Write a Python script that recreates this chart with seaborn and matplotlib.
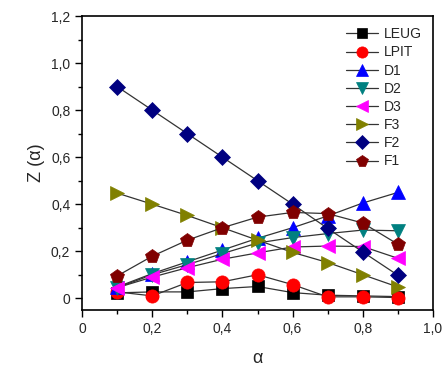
import numpy as np
import pandas as pd
import matplotlib
matplotlib.use('Agg')
import matplotlib.pyplot as plt
import seaborn as sns
from matplotlib.ticker import MultipleLocator, FuncFormatter

sns.set_style('ticks')
plt.rcParams['font.family'] = ['Liberation Sans', 'DejaVu Sans']

alpha = [0.1, 0.2, 0.3, 0.4, 0.5, 0.6, 0.7, 0.8, 0.9]
leug = [0.023, 0.027, 0.027, 0.041, 0.05, 0.024, 0.013, 0.01, 0.007]
lpit = [0.027, 0.01, 0.067, 0.07, 0.10, 0.058, 0.006, 0.006, 0.003]
d1 = [0.048, 0.105, 0.155, 0.205, 0.255, 0.30, 0.35, 0.405, 0.45]
d2 = [0.045, 0.10, 0.143, 0.19, 0.235, 0.258, 0.275, 0.29, 0.287]
d3 = [0.045, 0.09, 0.13, 0.166, 0.193, 0.218, 0.222, 0.22, 0.17]
f3 = [0.447, 0.40, 0.352, 0.30, 0.247, 0.195, 0.152, 0.10, 0.048]
f2 = [0.90, 0.80, 0.70, 0.60, 0.50, 0.40, 0.297, 0.197, 0.098]
f1 = [0.095, 0.179, 0.247, 0.30, 0.345, 0.365, 0.36, 0.32, 0.23]

names = ['LEUG', 'LPIT', 'D1', 'D2', 'D3', 'F3', 'F2', 'F1']
series = [leug, lpit, d1, d2, d3, f3, f2, f1]
markers = ['s', 'o', '^', 'v', '<', '>', 'D', 'p']
colors = ['#000000', '#ff0000', '#0000ff', '#008080', '#ff00ff', '#808000', '#000080', '#800000']
sizes = [8, 9.5, 10, 10, 10, 10, 8.5, 10]

fig = plt.figure(figsize=(4.44, 3.66), dpi=100)
ax = fig.add_axes([0.185, 0.153, 0.79, 0.803])

for name, vals, m, c, s in zip(names, series, markers, colors, sizes):
    df = pd.DataFrame({'alpha': alpha, 'Z': vals})
    sns.lineplot(data=df, x='alpha', y='Z', ax=ax, color='#333333', linewidth=0.9,
                 marker=m, markersize=s, markerfacecolor=c, markeredgecolor=c,
                 markeredgewidth=0.5, label=name)

ax.set_xlim(0, 1.0)
ax.set_ylim(-0.05, 1.2)
ax.xaxis.set_major_locator(MultipleLocator(0.2))
ax.xaxis.set_minor_locator(MultipleLocator(0.1))
ax.yaxis.set_major_locator(MultipleLocator(0.2))
ax.yaxis.set_minor_locator(MultipleLocator(0.1))

def comma(v, pos):
    if abs(v) < 1e-9:
        return '0'
    return f'{v:.1f}'.replace('.', ',')

ax.xaxis.set_major_formatter(FuncFormatter(comma))
ax.yaxis.set_major_formatter(FuncFormatter(comma))
ax.tick_params(which='major', direction='out', length=5, width=1, labelsize=10, color='black')
ax.tick_params(which='minor', direction='out', length=3, width=1, color='black')
for sp in ax.spines.values():
    sp.set_linewidth(1.2)
    sp.set_color('black')

ax.set_xlabel('α', fontsize=13, labelpad=10)
ax.set_ylabel('Z (α)', fontsize=13, labelpad=4)

leg = ax.legend(loc='upper right', frameon=False, fontsize=10, handlelength=2.3,
                labelspacing=0.3, borderaxespad=0.4, handletextpad=0.4, markerscale=0.85)

fig.savefig('out.png', dpi=100)
